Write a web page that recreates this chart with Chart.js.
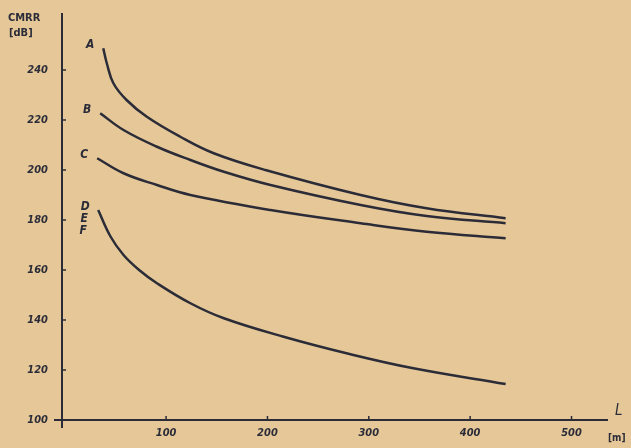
<!DOCTYPE html>
<html>
<head>
<meta charset="utf-8">
<script src="https://cdn.jsdelivr.net/npm/chart.js@4.4.1/dist/chart.umd.min.js"></script>
<style>
  html, body { margin: 0; padding: 0; background: #e6c898; }
  #wrap { width: 631px; height: 448px; position: relative; }
</style>
</head>
<body>
<div id="wrap"><canvas id="cmrrChart" width="631" height="448"></canvas></div>
<script>
// cable length L [m] and CMRR [dB]
const lengthA = [38, 41.5, 48, 61, 81, 114, 147, 198, 292, 357, 435];
const cmrrA   = [248.7, 242.7, 234.7, 228, 221.3, 213.3, 206.7, 200, 190, 184.7, 180.7];

const lengthB = [35, 58, 91, 124, 157, 203, 292, 357, 435];
const cmrrB   = [222.7, 216, 209.3, 204, 199.3, 194, 186, 181.6, 178.7];

const lengthC = [32, 58, 91, 124, 203, 292, 357, 435];
const cmrrC   = [204.7, 198.7, 194, 190, 184, 178.7, 175.3, 172.7];

const lengthDEF = [33, 45, 58, 74, 91, 124, 157, 216, 278, 344, 435];
const cmrrDEF   = [184, 173.5, 166, 159.8, 154.7, 146.7, 140.7, 133.3, 126.7, 120.7, 114.4];

const curveNames = [['A'], ['B'], ['C'], ['D', 'E', 'F']];
const xTickValues = [100, 200, 300, 400, 500];
const yTickValues = [100, 120, 140, 160, 180, 200, 220, 240];

const ink = '#2b2c38';
const paper = '#e6c898';
const handFont = '"DejaVu Sans Condensed", "DejaVu Sans", sans-serif';

function toPoints(xs, ys) {
    return xs.map((x, i) => ({ x: x, y: ys[i] }));
}

const curves = [
    toPoints(lengthA, cmrrA),
    toPoints(lengthB, cmrrB),
    toPoints(lengthC, cmrrC),
    toPoints(lengthDEF, cmrrDEF)
];

// paper, axes, tick marks, axis titles and curve letters
const paperPlugin = {
    id: 'paper',
    beforeDraw(chart) {
        const ctx = chart.ctx;
        ctx.save();
        ctx.fillStyle = paper;
        ctx.fillRect(0, 0, chart.width, chart.height);
        ctx.restore();
    },
    afterDraw(chart) {
        const ctx = chart.ctx;
        const area = chart.chartArea;
        const xs = chart.scales.x;
        const ys = chart.scales.y;
        ctx.save();
        ctx.strokeStyle = ink;
        ctx.lineWidth = 2;
        ctx.beginPath();
        ctx.moveTo(area.left, area.top);
        ctx.lineTo(area.left, area.bottom + 8);
        ctx.moveTo(area.left - 8, area.bottom);
        ctx.lineTo(area.right, area.bottom);
        ctx.stroke();

        ctx.lineWidth = 1.5;
        ctx.beginPath();
        yTickValues.forEach(v => {
            const py = ys.getPixelForValue(v);
            ctx.moveTo(area.left, py);
            ctx.lineTo(area.left + 4, py);
        });
        xTickValues.forEach(v => {
            const px = xs.getPixelForValue(v);
            ctx.moveTo(px, area.bottom);
            ctx.lineTo(px, area.bottom - 4);
        });
        ctx.stroke();

        ctx.fillStyle = ink;
        ctx.font = 'bold 11px ' + handFont;
        ctx.textAlign = 'left';
        ctx.textBaseline = 'middle';
        ctx.fillText('CMRR', 8, 18);
        ctx.fillText('[dB]', 9, 33);
        ctx.font = 'italic 15px ' + handFont;
        ctx.fillText('L', 615, 411);
        ctx.font = 'bold 10px ' + handFont;
        ctx.fillText('[m]', 608, 438);

        ctx.font = 'italic bold 12px ' + handFont;
        ctx.textAlign = 'center';
        curves.forEach((pts, i) => {
            const first = pts[0];
            const px = xs.getPixelForValue(first.x) - 13;
            const py = ys.getPixelForValue(first.y) - 3;
            curveNames[i].forEach((name, k) => {
                ctx.fillText(name, px - k, py + k * 12);
            });
        });
        ctx.restore();
    }
};

new Chart(document.getElementById('cmrrChart').getContext('2d'), {
    type: 'line',
    data: {
        datasets: curves.map((pts, i) => ({
            label: curveNames[i].join(''),
            data: pts,
            borderColor: ink,
            borderWidth: 2.5,
            pointRadius: 0,
            fill: false,
            tension: 0.4
        }))
    },
    options: {
        responsive: false,
        animation: false,
        layout: { padding: { top: 13, right: 23, left: 0, bottom: 0 } },
        plugins: { legend: { display: false }, tooltip: { enabled: false } },
        scales: {
            x: {
                type: 'linear',
                min: -2.7,
                max: 536,
                grid: { display: false, drawTicks: false },
                border: { display: false },
                afterBuildTicks: s => { s.ticks = xTickValues.map(v => ({ value: v })); },
                afterFit: s => { s.height = 28; s.paddingLeft = 0; s.paddingRight = 0; },
                ticks: {
                    padding: 7,
                    color: ink,
                    maxRotation: 0,
                    font: { family: handFont, size: 11, style: 'italic', weight: 'bold' }
                }
            },
            y: {
                type: 'linear',
                min: 100,
                max: 262.8,
                grid: { display: false, drawTicks: false },
                border: { display: false },
                afterBuildTicks: s => { s.ticks = yTickValues.map(v => ({ value: v })); },
                afterFit: s => { s.width = 62; s.paddingTop = 0; s.paddingBottom = 0; },
                ticks: {
                    padding: 14,
                    color: ink,
                    font: { family: handFont, size: 11, style: 'italic', weight: 'bold' }
                }
            }
        }
    },
    plugins: [paperPlugin]
});
</script>
</body>
</html>
